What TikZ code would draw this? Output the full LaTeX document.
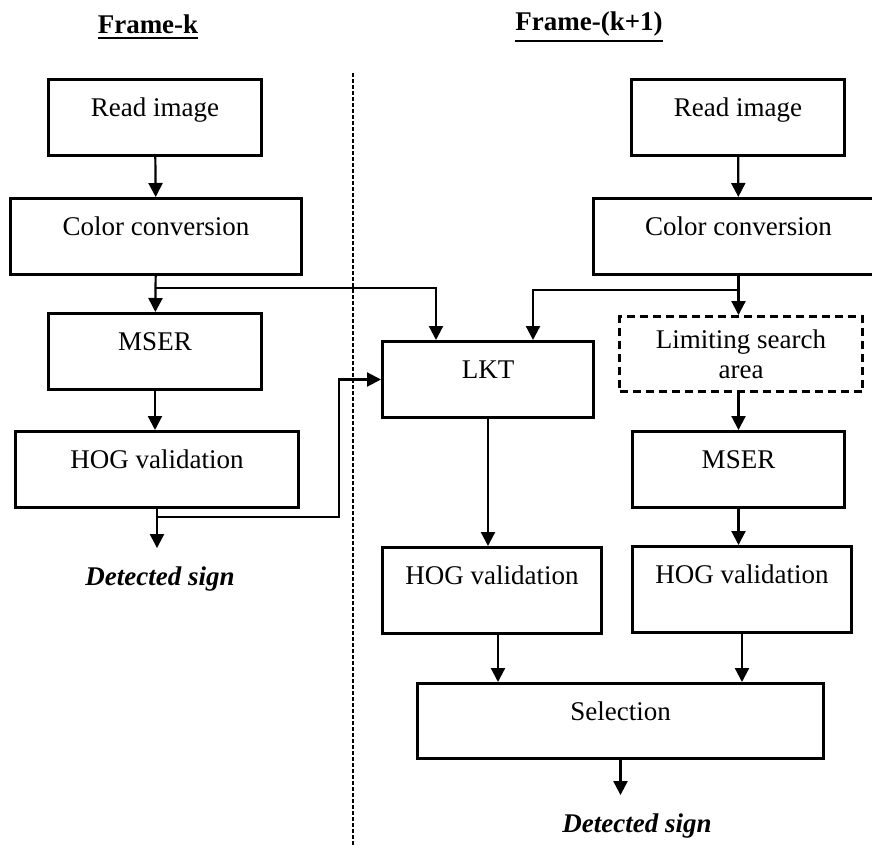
\documentclass[tikz,border=0pt]{standalone}
\usepackage{fontspec}
\setmainfont{Liberation Serif}
\usepackage{tikz}
\usetikzlibrary{arrows.meta, positioning, calc}
\newcommand{\ultitle}[1]{\leavevmode\vtop{\hbox{#1}\kern3pt\hrule height 2pt}}

\begin{document}
\begin{tikzpicture}[
    x=1pt, y=-1pt,
    stepbox/.style={rectangle, draw, line width=3pt, inner sep=0pt, minimum width=#1, text height=37pt, text depth=39pt, font=\fontsize{27}{30}\selectfont, anchor=north west},
    tallbox/.style={stepbox=#1, text depth=49pt},
    arrow/.style={line width=2.2pt, -{Triangle[width=14pt,length=14pt]}},
    title/.style={font=\fontsize{27}{30}\selectfont\bfseries},
    detected/.style={font=\fontsize{27}{30}\selectfont\bfseries\itshape, inner xsep=0pt, inner ysep=18pt, anchor=base},
]
    \useasboundingbox (0,0) rectangle (872,845);

    % titles and divider
    \node[title] (titleL) at (148,27) {\ultitle{Frame-k}};
    \node[title] (titleR) at (589,27) {\ultitle{Frame-(k+1)}};
    \coordinate (divTop) at (353,73);
    \coordinate (divBot) at (353,845);
    \draw[line width=2pt, dash pattern=on 4pt off 2pt] (divTop) -- (divBot);

    % frame k
    \node[stepbox=213pt] (readL) at (47,78) {Read image};
    \node[stepbox=291pt] (colorL) at (9,197) {Color conversion};
    \node[stepbox=213pt] (mserL) at (47,312) {MSER};
    \node[stepbox=283pt] (hogL) at (14,430) {HOG validation};
    \node[detected] (detL) at (160,585) {Detected sign};

    % frame k+1
    \node[stepbox=213pt] (readR) at (630,78) {Read image};
    \node[stepbox=290pt] (colorR) at (592,197) {Color conversion};
    \node[rectangle, draw, line width=3pt, dash pattern=on 8pt off 5pt, minimum width=243pt, minimum height=75pt, align=center, font=\fontsize{27}{30}\selectfont, anchor=north west] (limit) at (618,315) {Limiting search\\area};
    \node[stepbox=211pt] (lkt) at (381,340) {LKT};
    \node[stepbox=212pt] (mserR) at (631,430) {MSER};
    \node[tallbox=219pt] (hogM) at (381,546) {HOG validation};
    \node[tallbox=219pt] (hogR) at (631,545) {HOG validation};
    \node[stepbox=406pt, text depth=38pt] (sel) at (416,682) {Selection};
    \node[detected] (detR) at (637,832) {Detected sign};

    % connectors
    \draw[arrow] (readL) -- (colorL);
    \draw[arrow] (colorL) -- (mserL);
    \draw[arrow] (mserL) -- (mserL.south |- hogL.north);
    \draw[arrow] (hogL) -- (hogL.south |- detL.north);
    \coordinate (splitL) at (154.5,288);
    \draw[arrow] (splitL) -| ([xshift=-52pt]lkt.north);
    \coordinate (splitH) at (155.5,517);
    \draw[arrow] (splitH) -| ([xshift=-42pt]lkt.west) |- (lkt.west);

    \draw[arrow] (readR) -- (colorR);
    \draw[arrow] (colorR.south) -- (colorR.south |- limit.north);
    \coordinate (splitR) at (737,290);
    \draw[arrow] (splitR) -| ([xshift=45pt]lkt.north);
    \draw[arrow] (limit.south -| mserR.north) -- (mserR);
    \draw[arrow] (lkt) -- (lkt.south |- hogM.north);
    \draw[arrow] (mserR) -- (mserR.south |- hogR.north);
    \draw[arrow] ([xshift=6pt]hogM.south) -- ([xshift=6pt]hogM.south |- sel.north);
    \draw[arrow] (hogR) -- (hogR.south |- sel.north);
    \draw[arrow] (sel) -- (sel.south |- detR.north);
\end{tikzpicture}
\end{document}
